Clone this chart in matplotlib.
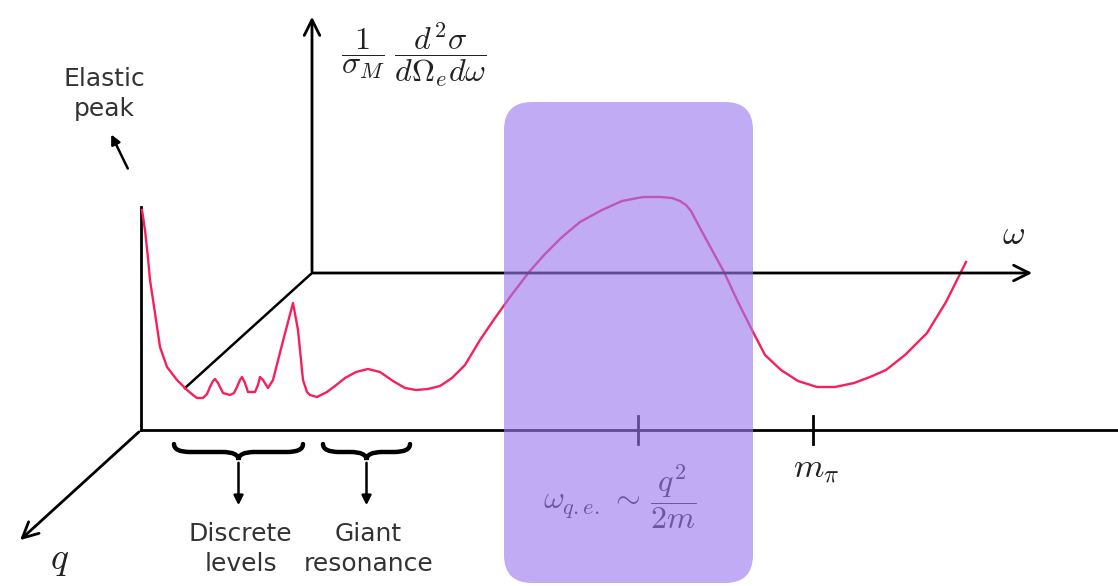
import matplotlib.pyplot as plt
import matplotlib.patches as mpatches
from matplotlib.path import Path

plt.rcParams['mathtext.fontset'] = 'cm'

# response curve (pixel coords, y grows downward)
curve_x = [142, 145, 148, 150, 155, 160, 167, 177, 187, 193, 197, 203, 207, 210, 213, 215,
           218, 223, 230, 234, 237, 240, 242, 245, 248, 255, 258, 260, 263, 268, 273, 283,
           293, 298, 303, 307, 310, 317, 327, 335, 345, 356, 368, 380, 393, 405, 416, 428,
           440, 452, 465, 480, 495, 510, 529, 545, 561, 580, 602, 622, 643, 660, 672, 680,
           686, 691, 700, 712, 724, 738, 752, 765, 781, 798, 817, 835, 854, 870, 886, 905,
           927, 946, 966]
curve_y = [210, 230, 258, 280, 313, 347, 367, 380, 390, 395, 398, 398, 394, 387, 381, 379,
           383, 393, 395, 393, 387, 380, 377, 383, 392, 392, 385, 377, 380, 388, 380, 341,
           303, 330, 380, 392, 395, 397, 392, 386, 378, 372, 369, 372, 381, 388, 390, 389,
           386, 378, 365, 340, 318, 297, 272, 254, 238, 222, 210, 201, 197, 197, 198, 201,
           205, 211, 228, 250, 272, 302, 330, 355, 370, 381, 387, 387, 383, 377, 370, 355,
           333, 302, 262]

tick_x = [638, 813]
tick_labels = [r'$\omega_{q.e.}\,\sim\,\dfrac{q^2}{2m}$', r'$m_\pi$']
tick_label_pos = [(620, 497), (816, 469)]
tick_label_size = [23, 25]

region_labels = ['Discrete\nlevels', 'Giant\nresonance']
region_spans = [(174, 303), (323, 410)]

fig = plt.figure(figsize=(11.18, 5.86), dpi=100)
ax = fig.add_axes([0, 0, 1, 1])
ax.set_xlim(0, 1118)
ax.set_ylim(586, 0)
ax.axis('off')

k = 'black'
lw = 2.0
arr = dict(arrowstyle='->', color=k, lw=lw, mutation_scale=28)

# front frame
ax.plot([141, 1118], [430, 430], color=k, lw=lw)
ax.plot([141, 141], [430, 207], color=k, lw=lw)
ax.annotate('', xy=(18, 542), xytext=(141, 430), arrowprops=arr)
# back frame
ax.annotate('', xy=(1035, 273), xytext=(310, 273), arrowprops=arr)
ax.annotate('', xy=(312, 14), xytext=(312, 274), arrowprops=arr)
ax.plot([312, 185], [273, 388], color=k, lw=1.8)

# curve
ax.plot(curve_x, curve_y, color='#f7205a', lw=1.7, solid_joinstyle='round')

# ticks and labels
for tx in tick_x:
    ax.plot([tx, tx], [416, 444], color=k, lw=lw)
for lab, (lx, ly), fs in zip(tick_labels, tick_label_pos, tick_label_size):
    ax.text(lx, ly, lab, fontsize=fs, ha='center', va='center', color='#222222')

ax.text(1013, 234, r'$\omega$', fontsize=25, ha='center', va='center', color='#222222')
ax.text(60, 560, r'$q$', fontsize=27, ha='center', va='center', color='#222222')
ax.text(414, 55, r'$\dfrac{1}{\sigma_M}\;\dfrac{d^2\sigma}{d\Omega_e d\omega}$', fontsize=23,
        ha='center', va='center', color='#222222')

# elastic peak note
txt_font = ['Liberation Sans Narrow', 'DejaVu Sans']
ax.text(104, 94, 'Elastic\npeak', fontsize=18, ha='center', va='center',
        family=txt_font, color='#333333', linespacing=1.3)
ax.annotate('', xy=(110, 132), xytext=(129, 171),
            arrowprops=dict(arrowstyle='-|>', color=k, lw=1.8, mutation_scale=14))


def brace(x0, x1, y, h):
    xm = (x0 + x1) / 2
    r = h
    m = y + h / 2
    verts = [(x0, y), (x0, m), (x0 + r, m), (xm - r, m), (xm, m), (xm, y + h),
             (xm, m), (xm + r, m), (x1 - r, m), (x1, m), (x1, y)]
    codes = [Path.MOVETO, Path.CURVE3, Path.CURVE3, Path.LINETO, Path.CURVE3, Path.CURVE3,
             Path.CURVE3, Path.CURVE3, Path.LINETO, Path.CURVE3, Path.CURVE3]
    ax.add_patch(mpatches.PathPatch(Path(verts, codes), fill=False, lw=3.2, color=k,
                                    capstyle='round'))


for lab, (x0, x1) in zip(region_labels, region_spans):
    xm = (x0 + x1) / 2
    brace(x0, x1, 444, 16)
    ax.annotate('', xy=(xm, 508), xytext=(xm, 460),
                arrowprops=dict(arrowstyle='-|>', color=k, lw=1.8, mutation_scale=14))
    ax.text(xm + 2, 549, lab, fontsize=18, ha='center', va='center', family=txt_font,
            color='#333333', linespacing=1.3)

# quasi-elastic highlight box, drawn on top
box = mpatches.FancyBboxPatch((504 + 28, 102 + 28), 249 - 56, 481 - 56,
                              boxstyle='round,pad=28', facecolor='#9c78ee', edgecolor='none',
                              alpha=0.62, zorder=10)
ax.add_patch(box)

fig.savefig('out.png', dpi=100)
